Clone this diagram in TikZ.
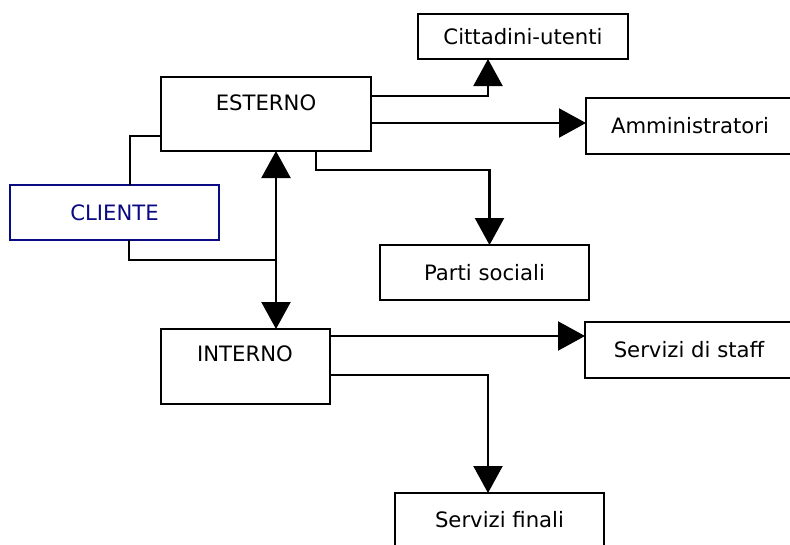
\documentclass[tikz,border=0pt]{standalone}
\usepackage{fontspec}
\setmainfont{DejaVu Sans}
\usetikzlibrary{arrows.meta}
\definecolor{navy}{RGB}{10,10,130}
\begin{document}
\begin{tikzpicture}[x=1pt,y=-1pt,
  font=\fontsize{21.2}{25}\selectfont,
  box/.style={draw,line width=2.2pt,rectangle,anchor=north west,inner sep=0pt,outer sep=0pt},
  conn/.style={line width=2.2pt},
  arr/.style={conn,-{Triangle[length=27pt,width=29pt]}},
  darr/.style={conn,{Triangle[length=27pt,width=29pt]}-{Triangle[length=27pt,width=29pt]}}]
\useasboundingbox (0,0) rectangle (790,544);
% boxes
\node[box,minimum width=210pt,minimum height=74pt] (est) at (161,77) {};
\node[anchor=center] (estt) at (266,103) {ESTERNO};
\node[box,draw=navy,text=navy,minimum width=209pt,minimum height=55pt] (cli) at (10,185) {CLIENTE};
\node[box,minimum width=210pt,minimum height=45pt] (cit) at (418,14) {Cittadini-utenti};
\node[box,minimum width=212pt,minimum height=56pt] (adm) at (586,98) {\hspace*{-2pt}Amministratori\hspace*{2pt}};
\node[box,minimum width=209pt,minimum height=55pt] (par) at (380,245) {Parti sociali};
\node[box,minimum width=169pt,minimum height=75pt] (int) at (161,329) {};
\node[anchor=center] (intt) at (245,354) {INTERNO};
\node[box,minimum width=212pt,minimum height=56pt] (stf) at (585,322) {\hspace*{-2pt}Servizi di staff\hspace*{2pt}};
\node[box,minimum width=209pt,minimum height=56pt] (fin) at (395,493) {\raisebox{3pt}{Servizi finali}};
% connectors
\draw[arr] ([yshift=-19pt]est.north east) -| ([xshift=-35pt]cit.south);
\coordinate (e2) at ([yshift=-46pt]est.north east);
\draw[arr] (e2) -- (e2 -| adm.west);
\draw[arr] ([xshift=155pt]est.south west) -- ++(0,-19pt) -| ([xshift=5pt]par.north);
\draw[conn] ([xshift=120pt]cli.north west) |- ([yshift=-59pt]est.north west);
\coordinate (j) at ([xshift=115pt]est.south west |- 0,260);
\draw[conn] ([xshift=119pt]cli.south west) |- (j);
\draw[darr] ([xshift=115pt]est.south west) -- ([xshift=115pt]int.north west);
\coordinate (i1) at ([yshift=-7pt]int.north east);
\draw[arr] (i1) -- (i1 -| stf.west);
\draw[arr] ([yshift=-46pt]int.north east) -| ([xshift=93pt]fin.north west);
\end{tikzpicture}
\end{document}
